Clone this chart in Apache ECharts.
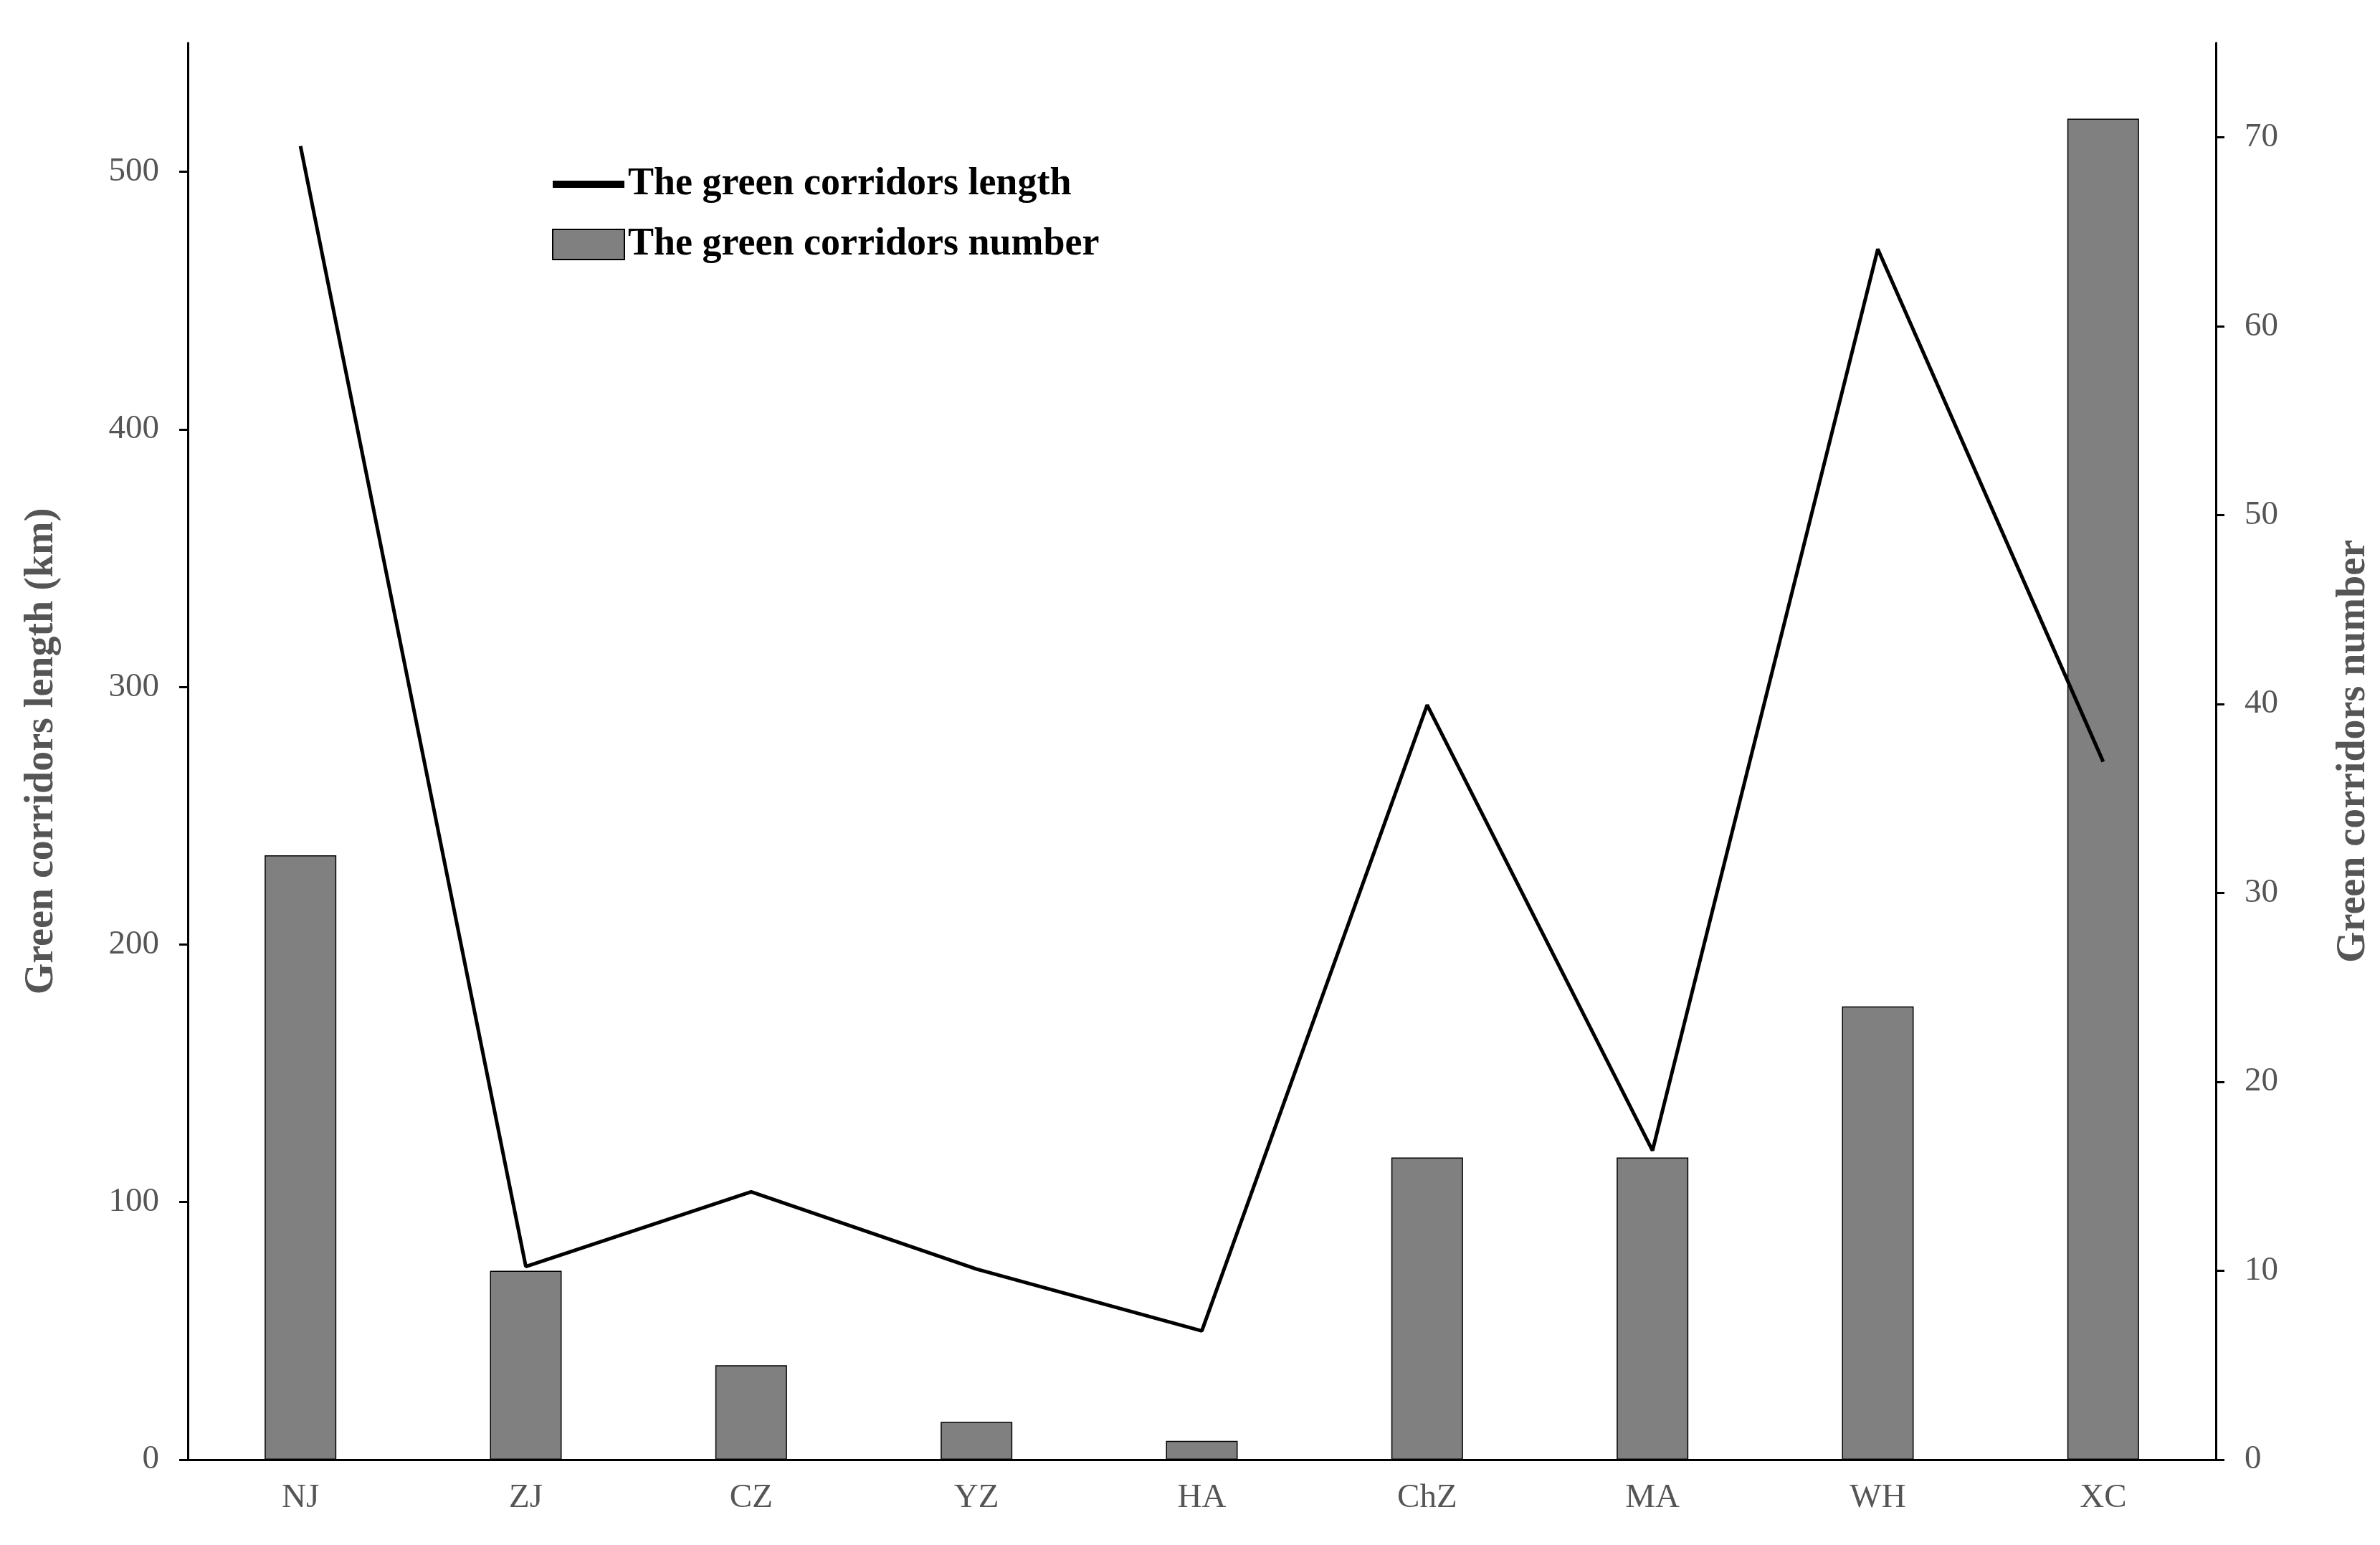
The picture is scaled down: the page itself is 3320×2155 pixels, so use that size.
<!DOCTYPE html>
<html><head><meta charset="utf-8">
<script src="https://cdn.jsdelivr.net/npm/echarts@6/dist/echarts.min.js"></script>
<style>html,body{margin:0;background:#fff}#c{width:3320px;height:2155px}</style>
</head><body><div id="c"></div>
<script>
const cities = ["NJ", "ZJ", "CZ", "YZ", "HA", "ChZ", "MA", "WH", "XC"];
const corridorLength = [510, 75, 104, 74, 50, 293, 120, 470, 271];
const corridorNumber = [32, 10, 5, 2, 1, 16, 16, 24, 71];

const font = "Liberation Serif";
const chart = echarts.init(document.getElementById("c"));
chart.setOption({
  animation: false,
  textStyle: { fontFamily: font },
  grid: { left: 262, right: 224, top: 60, bottom: 119 },
  legend: {
    orient: "vertical", left: 765, top: 225, itemGap: 30,
    itemWidth: 100, itemHeight: 42,
    textStyle: { fontFamily: font, fontSize: 54, fontWeight: "bold", color: "#000" },
    data: [
      { name: "The green corridors length", icon: "path://M0,0H10V1H0Z" },
      { name: "The green corridors number", icon: "rect" }
    ]
  },
  xAxis: {
    type: "category", data: cities,
    axisLine: { lineStyle: { color: "#000", width: 3 } },
    axisTick: { show: false },
    axisLabel: { fontSize: 47, color: "#555", margin: 30, fontFamily: font }
  },
  yAxis: [
    {
      type: "value", min: 0, max: 550, interval: 100,
      name: "Green corridors length (km)", nameLocation: "middle", nameGap: 175,
      nameTextStyle: { fontSize: 56, fontWeight: "bold", color: "#555", fontFamily: font },
      axisLine: { show: true, lineStyle: { color: "#000", width: 3 } },
      axisTick: { show: true, length: 12, lineStyle: { width: 3 } },
      axisLabel: { fontSize: 47, color: "#555", margin: 40, showMaxLabel: false, fontFamily: font },
      splitLine: { show: false }
    },
    {
      type: "value", min: 0, max: 75, interval: 10,
      name: "Green corridors number", nameLocation: "middle", nameGap: 165, nameRotate: 90,
      nameTextStyle: { fontSize: 56, fontWeight: "bold", color: "#555", fontFamily: font },
      axisLine: { show: true, lineStyle: { color: "#000", width: 3 } },
      axisTick: { show: true, length: 12, lineStyle: { width: 3 } },
      axisLabel: { fontSize: 47, color: "#555", margin: 40, showMaxLabel: false, fontFamily: font },
      splitLine: { show: false }
    }
  ],
  series: [
    {
      name: "The green corridors number", type: "bar", yAxisIndex: 1,
      data: corridorNumber, barWidth: 100,
      itemStyle: { color: "#808080", borderColor: "#000", borderWidth: 1.5 }
    },
    {
      name: "The green corridors length", type: "line", yAxisIndex: 0,
      data: corridorLength, symbol: "none",
      lineStyle: { color: "#000", width: 5 }, itemStyle: { color: "#000" }
    }
  ]
});
</script></body></html>
